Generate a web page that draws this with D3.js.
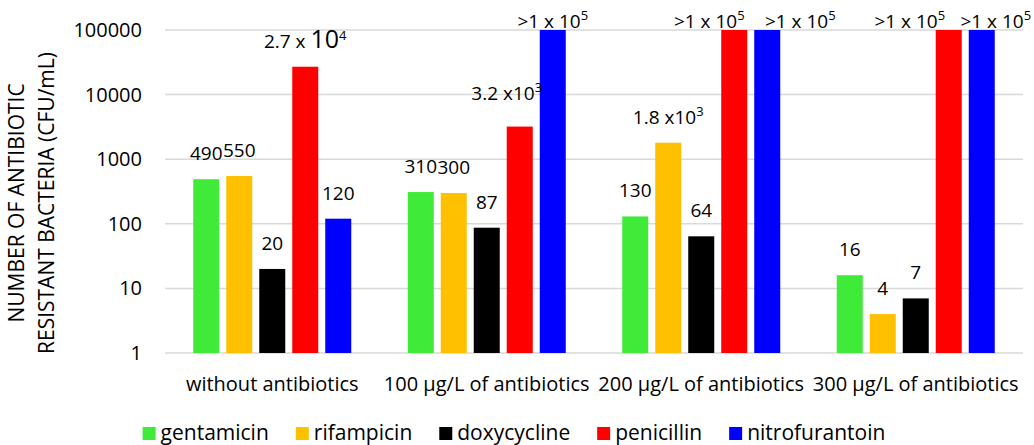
<!DOCTYPE html>
<html>
<head>
<meta charset="utf-8">
<script src="https://cdn.jsdelivr.net/npm/d3@7"></script>
<style>
  body { margin: 0; background: #fff; }
  svg { display: block; font-family: "Open Sans", sans-serif; }
</style>
</head>
<body>
<svg id="chart" width="1034" height="445"></svg>
<script>
// categories and series
const categories = ["without antibiotics", "100 µg/L of antibiotics", "200 µg/L of antibiotics", "300 µg/L of antibiotics"]
const seriesNames = ["gentamicin", "rifampicin", "doxycycline", "penicillin", "nitrofurantoin"]
const seriesColors = ["#3fea38", "#ffc000", "#000000", "#ff0000", "#0000ff"]

// CFU/mL values (100000 stands for ">1 x 10^5")
const gentamicin     = [490, 310, 130, 16]
const rifampicin     = [550, 300, 1800, 4]
const doxycycline    = [20, 87, 64, 7]
const penicillin     = [27000, 3200, 100000, 100000]
const nitrofurantoin = [120, 100000, 100000, 100000]

// label text, "^" = superscript, "~" = enlarged base
const gentamicinText     = ["490", "310", "130", "16"]
const rifampicinText     = ["550", "300", "1.8 x10^3", "4"]
const doxycyclineText    = ["20", "87", "64", "7"]
const penicillinText     = ["2.7 x ~10^4", "3.2 x10^3", ">1 x 10^5", ">1 x 10^5"]
const nitrofurantoinText = ["120", ">1 x 10^5", ">1 x 10^5", ">1 x 10^5"]

const yTicks = [1, 10, 100, 1000, 10000, 100000]

const values = [gentamicin, rifampicin, doxycycline, penicillin, nitrofurantoin]
const texts = [gentamicinText, rifampicinText, doxycyclineText, penicillinText, nitrofurantoinText]

// label nudges [series][category] -> [dx, dy], as placed in the original
const labelNudge = [
  [[0,0],[0,0],[0,0],[0,0]],
  [[0,0],[0,0],[0,0],[0,0]],
  [[0,0],[0,0],[0,0],[0,0]],
  [[0,0],[-13,-8],[-25,0],[-39,0]],
  [[0,0],[0,0],[33,0],[14,0]]
]

const svg = d3.select("#chart")
const margin = {left: 165, right: 11, top: 30, bottom: 92}
const W = 1034, H = 445

const x0 = d3.scaleBand()
  .domain(categories)
  .range([margin.left, W - margin.right])
  .paddingInner(0).paddingOuter(0)

const x1 = d3.scaleBand()
  .domain(seriesNames)
  .range([0, x0.bandwidth()])
  .paddingInner(0.212)
  .paddingOuter(0.856)

const y = d3.scaleLog()
  .domain([1, 100000])
  .range([H - margin.bottom, margin.top])

// gridlines
svg.append("g")
  .selectAll("line")
  .data(yTicks)
  .join("line")
  .attr("x1", margin.left)
  .attr("x2", W - margin.right)
  .attr("y1", d => y(d))
  .attr("y2", d => y(d))
  .attr("stroke", "#d9d9d9")
  .attr("stroke-width", 1.5)

// y tick labels
const yAxis = svg.append("g")
  .attr("transform", `translate(${margin.left - 23},0)`)
  .call(d3.axisLeft(y).tickValues(yTicks).tickFormat(d3.format("d")).tickSize(0).tickPadding(0))
yAxis.select(".domain").remove()
yAxis.selectAll("text")
  .attr("font-family", "Open Sans, sans-serif")
  .attr("font-size", 20)
  .attr("fill", "#000")

// x category labels
const xAxis = svg.append("g")
  .attr("transform", `translate(0,${y(1) + 24})`)
  .call(d3.axisBottom(x0).tickSize(0).tickPadding(0))
xAxis.select(".domain").remove()
xAxis.selectAll("text")
  .attr("font-family", "Open Sans, sans-serif")
  .attr("font-size", 20)
  .attr("fill", "#000")

// bars
const barData = []
categories.forEach((c, ci) => {
  seriesNames.forEach((s, si) => {
    barData.push({cat: c, ci: ci, ser: s, si: si, v: values[si][ci], t: texts[si][ci]})
  })
})

svg.append("g")
  .selectAll("rect")
  .data(barData)
  .join("rect")
  .attr("x", d => x0(d.cat) + x1(d.ser))
  .attr("y", d => y(d.v))
  .attr("width", x1.bandwidth())
  .attr("height", d => y(1) - y(d.v))
  .attr("fill", d => seriesColors[d.si])

// value labels
const labels = svg.append("g")
  .attr("font-size", 19)
  .attr("text-anchor", "middle")
  .selectAll("text")
  .data(barData)
  .join("text")
  .attr("x", d => x0(d.cat) + x1(d.ser) + x1.bandwidth() / 2 + labelNudge[d.si][d.ci][0])
  .attr("y", d => Math.max(y(d.v) - 19, 28) + labelNudge[d.si][d.ci][1])
  .attr("fill", "#000")

labels.each(function(d) {
  const el = d3.select(this)
  const parts = d.t.split("^")
  let base = parts[0]
  if (base.includes("~")) {
    const bits = base.split("~")
    el.append("tspan").text(bits[0])
    el.append("tspan").attr("font-size", 25).text(bits[1])
  } else {
    el.append("tspan").text(base)
  }
  if (parts[1]) {
    el.append("tspan")
      .attr("font-size", 13)
      .attr("dy", -8)
      .text(parts[1])
  }
})

// y axis title
const title = svg.append("text")
  .attr("transform", `translate(0,203) rotate(-90)`)
  .attr("text-anchor", "middle")
  .attr("font-size", 21)
  .attr("fill", "#000")
title.append("tspan").attr("x", 0).attr("y", 24).text("NUMBER OF ANTIBIOTIC")
title.append("tspan").attr("x", 0).attr("y", 54).text("RESISTANT BACTERIA (CFU/mL)")

// legend, laid out from measured text widths and centred on the page
const legendGap = 27
const legend = svg.append("g")
const items = legend.selectAll("g")
  .data(seriesNames)
  .join("g")
items.append("rect")
  .attr("y", -13)
  .attr("width", 13)
  .attr("height", 13)
  .attr("fill", (d, i) => seriesColors[i])
items.append("text")
  .attr("x", 18)
  .attr("font-size", 21)
  .attr("fill", "#000")
  .text(d => d)

let cx = 0
items.each(function() {
  const g = d3.select(this)
  g.attr("transform", `translate(${cx},0)`)
  cx += 18 + g.select("text").node().getComputedTextLength() + legendGap
})
const legendW = cx - legendGap
legend.attr("transform", `translate(${(W - legendW) / 2 - 3},440)`)
</script>
</body>
</html>
